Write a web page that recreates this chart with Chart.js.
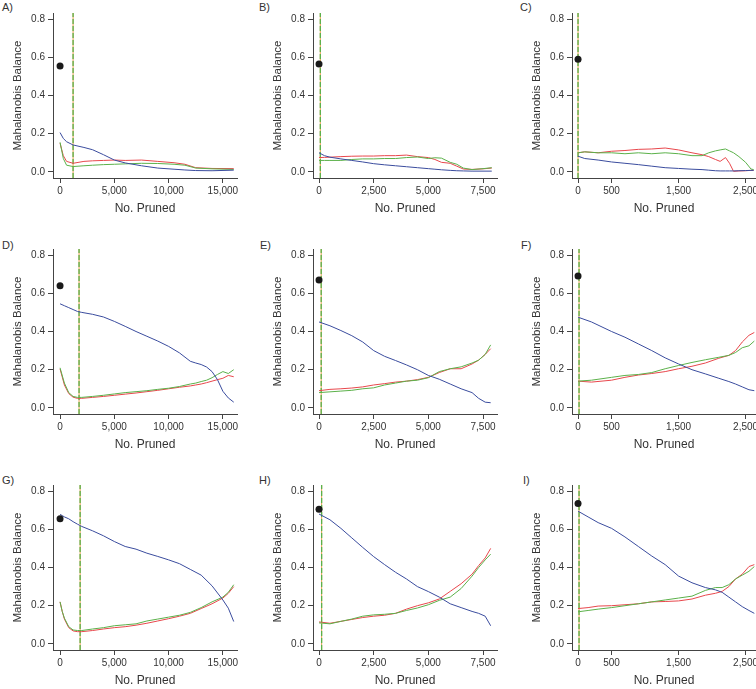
<!DOCTYPE html>
<html lang="en">
<head>
    <meta charset="UTF-8">
    <title>Mahalanobis Balance vs No. Pruned</title>
    <script src="https://cdn.jsdelivr.net/npm/chart.js@4.4.1/dist/chart.umd.min.js"></script>
    <style>
        body {
            margin: 0;
            background: #fff;
            width: 756px;
            height: 689px;
            overflow: hidden;
            position: relative;
            font-family: 'Liberation Sans', Arial, sans-serif;
        }
        canvas {
            position: absolute;
        }
        .tag {
            position: absolute;
            font-size: 11px;
            line-height: 13px;
            color: #333;
        }
    </style>
</head>
<body>
    <div id="grid"></div>

    <script>
        // ---- data ----
        const yTicks = [0, 0.2, 0.4, 0.6, 0.8];
        const xTicksWide = [0, 5000, 10000, 15000];
        const xTicksMid = [0, 2500, 5000, 7500];
        const xTicksNarrow = [0, 500, 1500, 2500];

        const panelTags = ['A)', 'B)', 'C)', 'D)', 'E)', 'F)', 'G)', 'H)', 'I)'];
        const startDots = [0.555, 0.565, 0.59, 0.64, 0.67, 0.69, 0.655, 0.705, 0.735];
        const cutoffs = [1200, 60, 0, 1750, 100, 15, 1850, 120, 15];

        const aX = [0, 300, 600, 1200, 2200, 3000, 4000, 5000, 6000, 7500, 9000, 10500, 11500, 12500, 14000, 16000];
        const aBlue = [0.206, 0.175, 0.158, 0.141, 0.128, 0.116, 0.09, 0.062, 0.047, 0.032, 0.02, 0.014, 0.01, 0.007, 0.006, 0.009];
        const aRed = [0.15, 0.085, 0.055, 0.045, 0.055, 0.058, 0.06, 0.062, 0.06, 0.062, 0.055, 0.048, 0.04, 0.022, 0.018, 0.017];
        const aGreen = [0.155, 0.07, 0.035, 0.028, 0.032, 0.035, 0.038, 0.04, 0.042, 0.045, 0.044, 0.04, 0.035, 0.02, 0.016, 0.013];

        const bX = [0, 250, 500, 1000, 1500, 2000, 2500, 3000, 3500, 4000, 4500, 5000, 5300, 5600, 6000, 6300, 6600, 7000, 7500, 7900];
        const bBlue = [0.1, 0.085, 0.077, 0.068, 0.06, 0.052, 0.043, 0.037, 0.032, 0.027, 0.022, 0.017, 0.014, 0.011, 0.008, 0.006, 0.005, 0.004, 0.004, 0.004];
        const bRed = [0.075, 0.076, 0.077, 0.08, 0.082, 0.083, 0.083, 0.085, 0.085, 0.088, 0.08, 0.075, 0.065, 0.05, 0.045, 0.03, 0.015, 0.013, 0.016, 0.02];
        const bGreen = [0.06, 0.06, 0.06, 0.06, 0.065, 0.068, 0.068, 0.07, 0.07, 0.075, 0.078, 0.07, 0.074, 0.072, 0.05, 0.04, 0.02, 0.012, 0.017, 0.022];

        const cX = [0, 100, 300, 500, 700, 900, 1100, 1300, 1500, 1700, 1850, 1950, 2050, 2120, 2200, 2260, 2320, 2400, 2500, 2580, 2620];
        const cBlue = [0.082, 0.07, 0.062, 0.052, 0.045, 0.038, 0.03, 0.022, 0.018, 0.014, 0.012, 0.009, 0.006, 0.005, 0.005, 0.005, 0.005, 0.006, 0.007, 0.008, 0.008];
        const cRed = [0.1, 0.105, 0.1, 0.108, 0.112, 0.118, 0.12, 0.125, 0.115, 0.1, 0.09, 0.08, 0.065, 0.055, 0.075, 0.045, 0.003, 0.005, 0.006, 0.008, 0.008];
        const cGreen = [0.1, 0.105, 0.1, 0.1, 0.095, 0.1, 0.095, 0.1, 0.095, 0.085, 0.085, 0.1, 0.11, 0.115, 0.12, 0.11, 0.1, 0.08, 0.05, 0.015, 0.012];

        const dX = [0, 400, 800, 1200, 1600, 2000, 3000, 4000, 5000, 6000, 7000, 8000, 9000, 10000, 11000, 12000, 12500, 13000, 13500, 14000, 14500, 15000, 15500, 16000];
        const dBlue = [0.545, 0.535, 0.525, 0.515, 0.505, 0.5, 0.49, 0.476, 0.453, 0.427, 0.4, 0.375, 0.35, 0.322, 0.288, 0.244, 0.235, 0.227, 0.214, 0.19, 0.148, 0.087, 0.052, 0.03];
        const dRed = [0.204, 0.12, 0.075, 0.056, 0.05, 0.05, 0.055, 0.06, 0.066, 0.072, 0.078, 0.085, 0.092, 0.1, 0.108, 0.115, 0.12, 0.125, 0.132, 0.14, 0.148, 0.155, 0.17, 0.163];
        const dGreen = [0.21, 0.13, 0.08, 0.06, 0.055, 0.055, 0.06, 0.066, 0.073, 0.08, 0.085, 0.09, 0.097, 0.103, 0.112, 0.125, 0.13, 0.138, 0.145, 0.158, 0.175, 0.19, 0.18, 0.2];

        const eX = [0, 500, 1000, 1500, 2000, 2500, 3000, 3500, 4000, 4500, 5000, 5500, 6000, 6500, 7000, 7300, 7600, 7850];
        const eBlue = [0.45, 0.43, 0.405, 0.378, 0.345, 0.3, 0.27, 0.248, 0.225, 0.2, 0.17, 0.15, 0.125, 0.1, 0.08, 0.05, 0.03, 0.027];
        const eRed = [0.09, 0.097, 0.1, 0.104, 0.11, 0.12, 0.127, 0.135, 0.14, 0.148, 0.16, 0.185, 0.205, 0.205, 0.23, 0.25, 0.28, 0.31];
        const eGreen = [0.08, 0.084, 0.088, 0.092, 0.1, 0.105, 0.12, 0.13, 0.14, 0.145, 0.158, 0.19, 0.205, 0.215, 0.235, 0.25, 0.28, 0.33];

        const fX = [0, 200, 500, 700, 900, 1100, 1300, 1500, 1700, 1900, 2100, 2250, 2350, 2450, 2550, 2630];
        const fBlue = [0.475, 0.45, 0.4, 0.37, 0.335, 0.3, 0.262, 0.23, 0.2, 0.178, 0.155, 0.138, 0.125, 0.11, 0.095, 0.09];
        const fRed = [0.14, 0.135, 0.145, 0.16, 0.172, 0.18, 0.19, 0.205, 0.218, 0.235, 0.26, 0.275, 0.3, 0.345, 0.38, 0.395];
        const fGreen = [0.14, 0.145, 0.16, 0.17, 0.175, 0.185, 0.205, 0.222, 0.238, 0.252, 0.265, 0.275, 0.29, 0.315, 0.325, 0.35];

        const gX = [0, 200, 400, 800, 1200, 1600, 2000, 3000, 4000, 5000, 6000, 7000, 8000, 9000, 10000, 11000, 12000, 13000, 14000, 15000, 15500, 16000];
        const gBlue = [0.678, 0.672, 0.665, 0.655, 0.64, 0.627, 0.615, 0.592, 0.566, 0.536, 0.51, 0.496, 0.475, 0.458, 0.44, 0.42, 0.39, 0.36, 0.304, 0.23, 0.187, 0.117];
        const gRed = [0.22, 0.17, 0.13, 0.085, 0.068, 0.064, 0.064, 0.07, 0.078, 0.085, 0.09, 0.098, 0.108, 0.12, 0.132, 0.145, 0.16, 0.185, 0.21, 0.24, 0.265, 0.3];
        const gGreen = [0.22, 0.17, 0.135, 0.09, 0.073, 0.07, 0.07, 0.078, 0.085, 0.095, 0.1, 0.105, 0.12, 0.13, 0.14, 0.15, 0.165, 0.19, 0.22, 0.245, 0.27, 0.31];

        const hX = [0, 500, 1000, 1500, 2000, 2500, 3000, 3500, 4000, 4500, 5000, 5500, 6000, 6500, 7000, 7300, 7600, 7850];
        const hBlue = [0.68, 0.65, 0.605, 0.555, 0.505, 0.457, 0.415, 0.375, 0.34, 0.3, 0.274, 0.245, 0.21, 0.19, 0.17, 0.16, 0.145, 0.095];
        const hRed = [0.115, 0.108, 0.118, 0.128, 0.138, 0.145, 0.15, 0.16, 0.182, 0.2, 0.215, 0.235, 0.275, 0.315, 0.365, 0.41, 0.45, 0.5];
        const hGreen = [0.11, 0.105, 0.118, 0.13, 0.145, 0.152, 0.155, 0.16, 0.175, 0.188, 0.205, 0.228, 0.245, 0.29, 0.355, 0.4, 0.44, 0.47];

        const iX = [0, 150, 300, 500, 700, 900, 1100, 1300, 1500, 1700, 1900, 2050, 2150, 2250, 2350, 2450, 2550, 2630];
        const iBlue = [0.695, 0.665, 0.635, 0.605, 0.56, 0.51, 0.46, 0.415, 0.355, 0.32, 0.295, 0.283, 0.27, 0.245, 0.22, 0.195, 0.175, 0.16];
        const iRed = [0.185, 0.19, 0.198, 0.2, 0.205, 0.21, 0.22, 0.222, 0.225, 0.235, 0.255, 0.265, 0.275, 0.3, 0.34, 0.365, 0.405, 0.415];
        const iGreen = [0.168, 0.175, 0.182, 0.19, 0.2, 0.21, 0.22, 0.23, 0.24, 0.25, 0.28, 0.295, 0.295, 0.31, 0.34, 0.36, 0.38, 0.405];

        // ---- styling / layout ----
        const BLUE = '#3a4c9e';
        const RED = '#e8474c';
        const GREEN = '#5bb14a';
        const ORANGE = '#e3a04e';
        const TEXT = '#333';
        const AXIS = '#444';
        const Y_MIN = -0.032, Y_MAX = 0.832;

        // x ranges per column (wide / mid / narrow)
        const colRanges = [
            { min: -650, max: 16300, ticks: xTicksWide },
            { min: -275, max: 8140, ticks: xTicksMid },
            { min: -90, max: 2655, ticks: xTicksNarrow }
        ];
        const colLeft = [0, 260, 519];
        const rowTop = [0, 236, 472];
        const tagPos = [[2, 1], [259, 1], [520, 1], [2, 239], [260, 239], [521, 239], [2, 474], [259, 474], [523, 474]];

        const series = [
            [aX, aBlue, aRed, aGreen], [bX, bBlue, bRed, bGreen], [cX, cBlue, cRed, cGreen],
            [dX, dBlue, dRed, dGreen], [eX, eBlue, eRed, eGreen], [fX, fBlue, fRed, fGreen],
            [gX, gBlue, gRed, gGreen], [hX, hBlue, hRed, hGreen], [iX, iBlue, iRed, iGreen]
        ];

        const pts = (xs, ys) => xs.map((x, i) => ({ x: x, y: ys[i] }));

        function lineSet(data, color) {
            return { data: data, borderColor: color, borderWidth: 1, pointRadius: 0, tension: 0, fill: false };
        }

        const grid = document.getElementById('grid');

        for (let p = 0; p < 9; p++) {
            const row = Math.floor(p / 3), col = p % 3;
            const range = colRanges[col];
            const [xs, blue, red, green] = series[p];

            const tag = document.createElement('div');
            tag.className = 'tag';
            tag.textContent = panelTags[p];
            tag.style.left = tagPos[p][0] + 'px';
            tag.style.top = tagPos[p][1] + 'px';
            grid.appendChild(tag);

            const cv = document.createElement('canvas');
            cv.width = 250;
            cv.height = 230;
            cv.style.left = colLeft[col] + 'px';
            cv.style.top = rowTop[row] + 'px';
            grid.appendChild(cv);

            const cut = [{ x: cutoffs[p], y: Y_MIN }, { x: cutoffs[p], y: Y_MAX }];

            new Chart(cv, {
                type: 'line',
                data: {
                    datasets: [
                        { data: [{ x: 0, y: startDots[p] }], showLine: false, pointRadius: 3.5,
                          pointBackgroundColor: '#1a1a1a', pointBorderWidth: 0 },
                        lineSet(pts(xs, blue), BLUE),
                        lineSet(pts(xs, green), GREEN),
                        lineSet(pts(xs, red), RED),
                        { data: cut, borderColor: GREEN, borderWidth: 1.3, borderDash: [5, 2], pointRadius: 0 },
                        { data: cut, borderColor: ORANGE, borderWidth: 1, pointRadius: 0 }
                    ]
                },
                options: {
                    responsive: false,
                    animation: false,
                    layout: { padding: { top: 13, right: 13, left: 0, bottom: 0 } },
                    plugins: { legend: { display: false }, tooltip: { enabled: false } },
                    scales: {
                        x: {
                            type: 'linear',
                            min: range.min,
                            max: range.max,
                            afterBuildTicks: s => { s.ticks = range.ticks.map(v => ({ value: v })); },
                            afterFit: s => { s.height = 52; s.paddingLeft = 0; s.paddingRight = 0; },
                            grid: { drawOnChartArea: false, drawTicks: true, tickLength: 5, color: AXIS },
                            border: { display: true, color: AXIS, width: 1 },
                            ticks: {
                                autoSkip: false, maxRotation: 0, padding: 2, color: TEXT,
                                font: { family: 'Liberation Sans', size: 10 },
                                callback: v => v.toLocaleString('en-US')
                            },
                            title: {
                                display: true, text: 'No. Pruned', color: TEXT,
                                font: { family: 'Liberation Sans', size: 12 },
                                padding: { top: 0, bottom: 14 }
                            }
                        },
                        y: {
                            min: Y_MIN,
                            max: Y_MAX,
                            afterBuildTicks: s => { s.ticks = yTicks.map(v => ({ value: v })); },
                            afterFit: s => { s.width = 53; s.paddingTop = 0; s.paddingBottom = 0; },
                            grid: { drawOnChartArea: false, drawTicks: true, tickLength: 5, color: AXIS },
                            border: { display: true, color: AXIS, width: 1 },
                            ticks: {
                                padding: 3, color: TEXT,
                                font: { family: 'Liberation Sans', size: 10 },
                                callback: v => v.toFixed(1)
                            },
                            title: {
                                display: true, text: 'Mahalanobis Balance', color: TEXT,
                                font: { family: 'Liberation Sans', size: 11.5 },
                                padding: { top: 11, bottom: 0 }
                            }
                        }
                    }
                }
            });
        }
    </script>
</body>
</html>
